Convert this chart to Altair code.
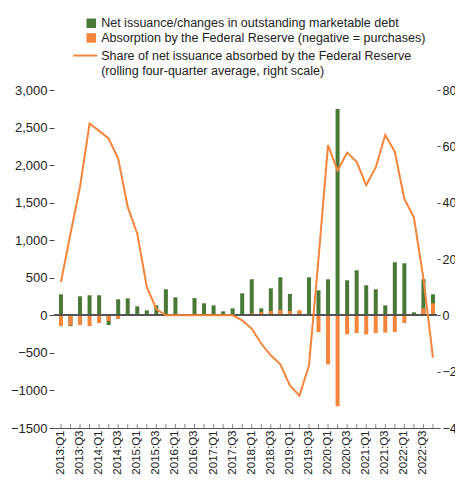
import altair as alt
import pandas as pd

quarters = [
    "2013:Q1", "2013:Q2", "2013:Q3", "2013:Q4",
    "2014:Q1", "2014:Q2", "2014:Q3", "2014:Q4",
    "2015:Q1", "2015:Q2", "2015:Q3", "2015:Q4",
    "2016:Q1", "2016:Q2", "2016:Q3", "2016:Q4",
    "2017:Q1", "2017:Q2", "2017:Q3", "2017:Q4",
    "2018:Q1", "2018:Q2", "2018:Q3", "2018:Q4",
    "2019:Q1", "2019:Q2", "2019:Q3", "2019:Q4",
    "2020:Q1", "2020:Q2", "2020:Q3", "2020:Q4",
    "2021:Q1", "2021:Q2", "2021:Q3", "2021:Q4",
    "2022:Q1", "2022:Q2", "2022:Q3", "2022:Q4",
]

# Net issuance / changes in outstanding marketable debt (left scale)
net_issuance = [
    280, -145, 253, 267,
    267, -129, 213, 227,
    120, 67, 133, 347,
    240, 0, 230, 160,
    133, 53, 93, 293,
    480, 93, 360, 507,
    284, 50, 507, 333,
    480, 2747, 467, 600,
    400, 347, 133, 707,
    693, 40, 480, 280,
]

# Absorption by the Federal Reserve (negative = purchases) (left scale)
fed_absorption = [
    -143, -135, -129, -143,
    -103, -76, -49, 0,
    0, 0, 0, 0,
    0, 0, 0, 0,
    0, 0, 0, 0,
    27, 44, 57, 71,
    57, 67, 0, -225,
    -653, -1210, -253, -236,
    -253, -236, -230, -222,
    -103, 0, 93, 160,
]

# Share absorbed by the Fed, rolling four-quarter average (right scale)
fed_share = [
    11.8, 29.0, 45.6, 68.1,
    65.5, 62.8, 55.7, 38.5,
    29.0, 10.1, 2.2, 0.0,
    0.0, 0.0, 0.0, 0.0,
    0.0, 0.0, 0.0, -1.8,
    -4.7, -10.1, -14.2, -17.4,
    -24.9, -28.5, -17.8, 20.0,
    60.4, 51.4, 57.8, 54.5,
    46.2, 52.5, 64.0, 58.1,
    41.3, 34.8, 13.0, -15.0,
]

label_net = "Net issuance/changes in outstanding marketable debt"
label_fed = "Absorption by the Federal Reserve (negative = purchases)"
label_share = "Share of net issuance absorbed by the Federal Reserve"
label_share_2 = "(rolling four-quarter average, right scale)"

left_ticks = [-1500, -1000, -500, 0, 500, 1000, 1500, 2000, 2500, 3000]
right_ticks = [-40, -20, 0, 20, 40, 60, 80]

GREEN = "#4A7836"
ORANGE = "#F4853B"
FONT = "Liberation Sans, Arial, sans-serif"
TXT = "#222222"
AXIS_FS = 13
LEG_FS = 12.5

df = pd.DataFrame({
    "quarter": quarters,
    "net": net_issuance,
    "fed": fed_absorption,
    "share": fed_share,
    "s_net": label_net,
    "s_fed": label_fed,
    "s_share": label_share,
})

x_axis = alt.Axis(
    labelAngle=270,
    labelExpr="(indexof(datum.value, 'Q1') >= 0 || indexof(datum.value, 'Q3') >= 0) ? datum.value : ''",
    labelOverlap=False,
    ticks=False,
    labelPadding=2,
    domain=True,
    domainColor="#555555",
    domainWidth=1,
    labelFont=FONT,
    labelFontSize=11.5,
    labelColor=TXT,
)
x_scale = alt.Scale(paddingInner=0.58, paddingOuter=0.365, align=0.71)
x_enc = alt.X("quarter:N", sort=quarters, title=None, scale=x_scale, axis=x_axis)

left_scale = alt.Scale(domain=[-1500, 3000], nice=False, zero=False)
left_axis = alt.Axis(
    values=left_ticks,
    labelExpr="datum.value < 0 ? '\u2212' + abs(datum.value) : format(datum.value, ',')",
    labelOverlap=False,
    domain=False,
    grid=False,
    tickSize=5,
    tickColor="#444444",
    labelPadding=2,
    labelFont=FONT,
    labelFontSize=AXIS_FS,
    labelColor=TXT,
    title=None,
)

color_scale = alt.Scale(domain=[label_net, label_fed], range=[GREEN, ORANGE])
color_legend = alt.Legend(
    title=None,
    orient="none",
    legendX=31,
    legendY=-73,
    direction="vertical",
    symbolType="square",
    symbolSize=90,
    symbolStrokeWidth=0,
    labelOffset=3.7,
    labelLimit=500,
    labelFont=FONT,
    labelFontSize=LEG_FS,
    labelColor=TXT,
    rowPadding=1.7,
    padding=0,
)

green = alt.Chart(df).mark_bar().encode(
    x=x_enc,
    y=alt.Y("net:Q", scale=left_scale, axis=left_axis),
    color=alt.Color("s_net:N", scale=color_scale, legend=color_legend),
)

orange = alt.Chart(df).mark_bar().encode(
    x=x_enc,
    y=alt.Y("fed:Q", scale=left_scale, axis=left_axis),
    color=alt.Color("s_fed:N", scale=color_scale, legend=color_legend),
)

zero_rule = alt.Chart(df).mark_rule(color="#555555", strokeWidth=1.5, opacity=0.9).encode(
    y=alt.YDatum(0, scale=left_scale, axis=left_axis),
)

x_ticks = alt.Chart(df).mark_tick(
    orient="vertical", size=4, thickness=1, color="#555555", yOffset=-2
).encode(
    x=x_enc,
    y=alt.YDatum(-1500, scale=left_scale, axis=left_axis),
)

left = alt.layer(green, orange, zero_rule, x_ticks)

line = alt.Chart(df).mark_line(strokeWidth=2).encode(
    x=x_enc,
    y=alt.Y(
        "share:Q",
        scale=alt.Scale(domain=[-40, 80], nice=False, zero=False),
        axis=alt.Axis(
            orient="right",
            values=right_ticks,
            labelOverlap=False,
            domain=False,
            grid=False,
            tickSize=3,
            tickColor="#444444",
            labelPadding=2,
            labelFont=FONT,
            labelFontSize=12.5,
            labelColor=TXT,
            title=None,
        ),
    ),
    stroke=alt.Stroke(
        "s_share:N",
        scale=alt.Scale(domain=[label_share, label_share_2], range=[ORANGE, "rgba(0,0,0,0)"]),
        legend=alt.Legend(
            title=None,
            orient="none",
            legendX=25,
            legendY=-40.7,
            direction="vertical",
            symbolType="M-2.4,0L2.4,0",
            symbolSize=100,
            symbolStrokeWidth=2,
            labelOffset=9.7,
            labelLimit=500,
            labelFont=FONT,
            labelFontSize=LEG_FS,
            labelColor=TXT,
            rowPadding=2.7,
            padding=0,
        ),
    ),
)

chart = (
    alt.layer(left, line)
    .resolve_scale(y="independent")
    .properties(
        width=383,
        height=338,
        padding={"left": 46, "top": 82, "right": 18, "bottom": 47},
        autosize=alt.AutoSizeParams(type="none"),
        background="white",
    )
    .configure_view(stroke=None)
)

chart.save("out.html", embed_options={"renderer": "svg", "actions": False})
